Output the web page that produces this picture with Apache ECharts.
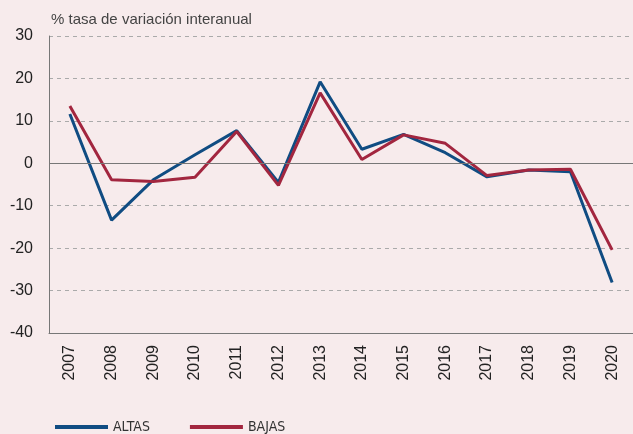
<!DOCTYPE html>
<html>
<head>
<meta charset="utf-8">
<script src="https://cdn.jsdelivr.net/npm/echarts@6/dist/echarts.min.js"></script>
<style>
  html, body { margin: 0; padding: 0; background: #f7ebec; }
  #chart { width: 633px; height: 434px; }
</style>
</head>
<body>
<div id="chart"></div>
<script>
const years = ["2007", "2008", "2009", "2010", "2011", "2012", "2013",
  "2014", "2015", "2016", "2017", "2018", "2019", "2020"];
const altas = [11.6, -13.4, -3.9, 2.0, 7.7, -4.5, 19.2, 3.3, 6.8, 2.5, -3.2, -1.6, -2.0, -28.1];
const bajas = [13.5, -3.9, -4.3, -3.3, 7.5, -5.2, 16.6, 0.9, 6.7, 4.7, -2.9, -1.6, -1.4, -20.4];
const yTicks = [-40, -30, -20, -10, 0, 10, 20, 30];

const chart = echarts.init(document.getElementById("chart"));
const font = "Liberation Sans, Arial, sans-serif";

chart.setOption({
  backgroundColor: "#f7ebec",
  animation: false,
  title: {
    text: "% tasa de variación interanual",
    left: 46,
    top: 7,
    textStyle: { fontFamily: font, fontSize: 15, fontWeight: "normal", color: "#444" }
  },
  legend: {
    left: 50,
    top: 415,
    icon: "rect",
    itemWidth: 53,
    itemHeight: 4,
    itemGap: 40,
    textStyle: { fontFamily: "DejaVu Sans Condensed, Liberation Sans Narrow, " + font, fontSize: 14, color: "#333" },
    data: ["ALTAS", "BAJAS"]
  },
  grid: { left: 49, right: 0, top: 36, bottom: 101 },
  xAxis: {
    type: "category",
    data: years,
    boundaryGap: true,
    axisLine: { lineStyle: { color: "#777", width: 1 }, onZero: false },
    axisTick: { inside: true, length: 5, lineStyle: { color: "#777" } },
    axisLabel: { rotate: 90, margin: 12, fontFamily: font, fontSize: 16, color: "#222" }
  },
  yAxis: {
    type: "value",
    min: yTicks[0],
    max: yTicks[yTicks.length - 1],
    interval: 10,
    axisLine: { show: true, lineStyle: { color: "#777", width: 1 } },
    axisTick: { show: false },
    axisLabel: { margin: 16, fontFamily: font, fontSize: 16, color: "#222" },
    splitLine: { lineStyle: { color: "#aaa", type: [4, 4], width: 1 } }
  },
  series: [
    {
      name: "ALTAS",
      type: "line",
      data: altas,
      symbol: "none",
      lineStyle: { color: "#104c82", width: 3 },
      itemStyle: { color: "#104c82" },
      z: 3,
      markLine: {
        silent: true,
        symbol: "none",
        label: { show: false },
        lineStyle: { color: "#777", type: "solid", width: 1.2 },
        data: [{ yAxis: 0 }]
      }
    },
    {
      name: "BAJAS",
      type: "line",
      data: bajas,
      symbol: "none",
      lineStyle: { color: "#a2263f", width: 3 },
      itemStyle: { color: "#a2263f" },
      z: 4
    }
  ]
});
</script>
</body>
</html>
